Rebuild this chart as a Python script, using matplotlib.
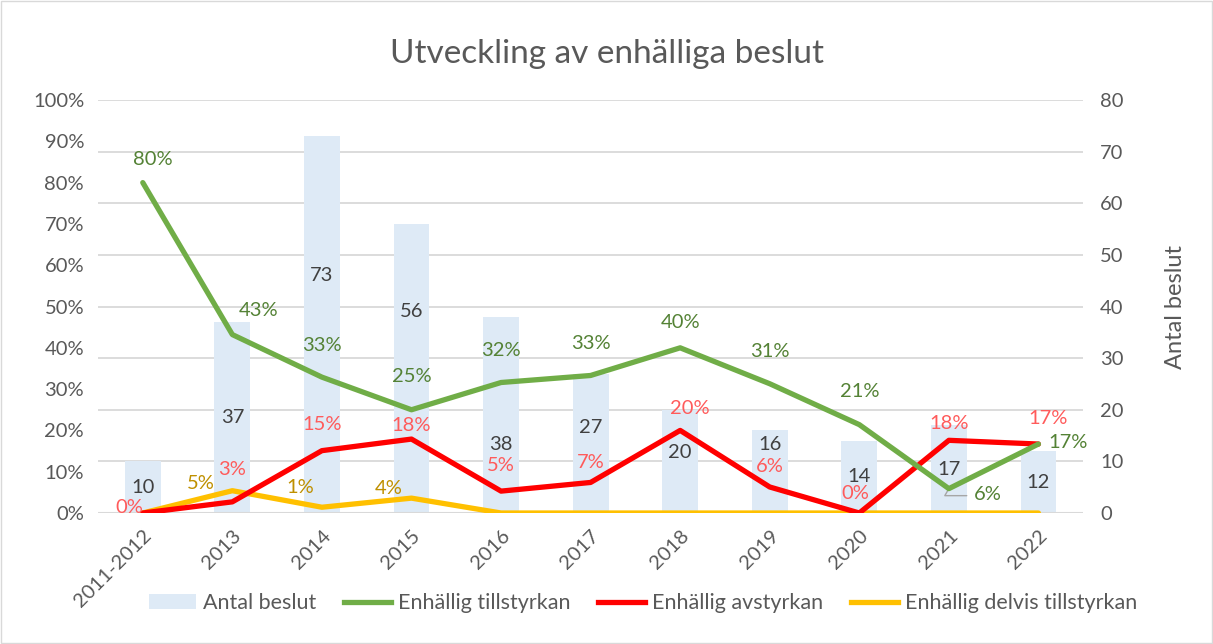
import numpy as np
import matplotlib.pyplot as plt
from matplotlib.patches import Patch
from matplotlib.lines import Line2D

plt.rcParams['font.family'] = ['Lato', 'DejaVu Sans']

# Data
years = ["2011-2012", "2013", "2014", "2015", "2016", "2017", "2018", "2019", "2020", "2021", "2022"]
antal = [10, 37, 73, 56, 38, 27, 20, 16, 14, 17, 12]
tillstyrkan = [80.0, 43.2, 32.9, 25.0, 31.6, 33.3, 40.0, 31.3, 21.4, 5.9, 16.7]
avstyrkan = [0.0, 2.7, 15.1, 17.9, 5.3, 7.4, 20.0, 6.3, 0.0, 17.6, 16.7]
delvis = [0.0, 5.4, 1.4, 3.6, 0.0, 0.0, 0.0, 0.0, 0.0, 0.0, 0.0]

# label offsets in pixels (dx, dy), y up
green_off = [(10, 23), (26, 24), (0, 32), (0, 33), (0, 32), (0, 32), (0, 25), (0, 32), (0, 33), (39, -6), (30, 2)]
red_off = [(-13, 6), (0, 32), (0, 26), (0, 14), (0, 26), (0, 20), (10, 22), (0, 20), (-4, 20), (0, 17), (10, 26)]
yellow_off = [None, (-32, 7), (-22, 20), (-23, 10), None, None, None, None, None, None, None]
# bar label heights (right axis units) where Excel moved them off centre
bar_label_y = [None, None, 46, 39, 13.2, 16.5, 11.8, 13.2, None, None, None]

GREEN = "#70AD47"
RED = "#FF0000"
YELLOW = "#FFC000"
BAR = "#DEEAF6"
GRID = "#D9D9D9"
TXT = "#595959"

fig = plt.figure(figsize=(12.13, 6.44), dpi=100)
fig.patches.append(plt.Rectangle((0.001, 0.001), 0.998, 0.998, transform=fig.transFigure,
                                 fill=False, edgecolor="#D9D9D9", linewidth=1))
ax = fig.add_axes([0.0808, 0.2034, 0.8122, 0.6413])
ax2 = ax.twinx()

x = np.arange(len(years))

# bars on secondary axis
ax2.bar(x, antal, width=0.4, color=BAR, zorder=1)
for i, v in enumerate(antal):
    yy = bar_label_y[i] if bar_label_y[i] is not None else v / 2
    ax2.text(x[i], yy, str(v), ha="center", va="center", fontsize=14.5, color="#404040", zorder=2)
ax2.set_ylim(0, 80)
ax2.set_yticks(range(0, 81, 10))
ax2.tick_params(axis="y", length=0, labelsize=14.5, labelcolor=TXT, pad=12)
ax2.set_ylabel("Antal beslut", fontsize=17, color=TXT, labelpad=30)

# lines on primary axis, drawn on top
ax.set_zorder(ax2.get_zorder() + 1)
ax.patch.set_visible(False)
ax.plot(x, delvis, color=YELLOW, lw=3.8, solid_capstyle="round", zorder=3)
ax.plot(x, avstyrkan, color=RED, lw=3.8, solid_capstyle="round", zorder=4)
ax.plot(x, tillstyrkan, color=GREEN, lw=3.8, solid_capstyle="round", zorder=5)

for i in range(len(years)):
    dx, dy = green_off[i]
    ax.annotate(f"{tillstyrkan[i]:.0f}%", (x[i], tillstyrkan[i]), xytext=(dx, dy),
                textcoords="offset pixels", ha="center", va="center", fontsize=14.5, color="#548235", zorder=6)
    dx, dy = red_off[i]
    ax.annotate(f"{avstyrkan[i]:.0f}%", (x[i], avstyrkan[i]), xytext=(dx, dy),
                textcoords="offset pixels", ha="center", va="center", fontsize=14.5, color="#FF5B5B", zorder=6)
    if yellow_off[i] is not None:
        dx, dy = yellow_off[i]
        ax.annotate(f"{delvis[i]:.0f}%", (x[i], delvis[i]), xytext=(dx, dy),
                    textcoords="offset pixels", ha="center", va="center", fontsize=14.5, color="#BF9000", zorder=6)

# leader line for 2021 green label
ax.annotate("", (x[9], tillstyrkan[9]), xytext=(x[9] + 0.2, tillstyrkan[9] - 1.7),
            arrowprops=dict(arrowstyle="-", color="#A6A6A6", lw=1, shrinkA=0, shrinkB=0,
                            connectionstyle="angle,angleA=0,angleB=60,rad=0"), zorder=2)

ax.set_xlim(-0.5, len(years) - 0.5)
ax.set_ylim(0, 100)
ax.set_yticks(range(0, 101, 10))
ax.set_yticklabels([f"{t}%" for t in range(0, 101, 10)])
ax.set_xticks(x)
ax.set_xticklabels(years, rotation=45, ha="right", rotation_mode="anchor")
ax.tick_params(axis="x", length=0, labelsize=14.5, labelcolor=TXT, pad=10)
ax.tick_params(axis="y", length=0, labelsize=14.5, labelcolor=TXT, pad=10)

ax2.grid(False)
for t in range(10, 81, 10):
    ax2.axhline(t, color=GRID, lw=1.3, zorder=0)
for a in (ax, ax2):
    for s in a.spines.values():
        s.set_visible(False)
ax.axhline(0, color=GRID, lw=1.5, zorder=1)

fig.suptitle("Utveckling av enhälliga beslut", y=0.94, fontsize=24, color=TXT)

handles = [Patch(facecolor=BAR, edgecolor="none"),
           Line2D([], [], color=GREEN, lw=3.8),
           Line2D([], [], color=RED, lw=3.8),
           Line2D([], [], color=YELLOW, lw=3.8)]
labels = ["Antal beslut", "Enhällig tillstyrkan", "Enhällig avstyrkan", "Enhällig delvis tillstyrkan"]
fig.legend(handles, labels, loc="center", bbox_to_anchor=(0.53, 0.063), ncol=4, frameon=False,
           fontsize=15.5, labelcolor=TXT, handlelength=2.2, handletextpad=0.3, columnspacing=1.3)

fig.savefig("out.png", dpi=100)
